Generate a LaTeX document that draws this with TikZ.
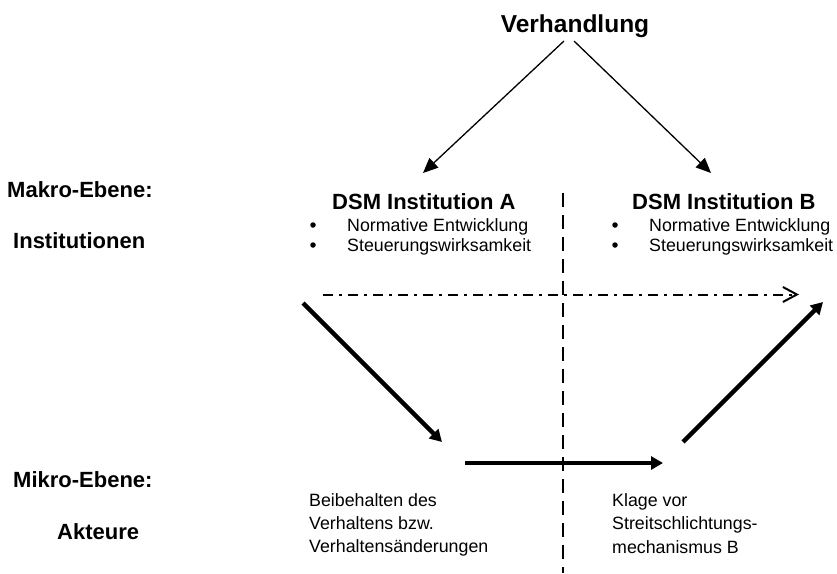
\documentclass[tikz,border=0pt]{standalone}
\usepackage{fontspec}
\setmainfont{Liberation Sans}
\usetikzlibrary{arrows.meta}
\begin{document}
\begin{tikzpicture}[x=1pt,y=-1pt,
  lbl/.style={anchor=base west,inner sep=0pt,font=\fontsize{22}{26}\selectfont\bfseries},
  headtxt/.style={anchor=base west,inner sep=0pt,font=\fontsize{22}{26}\selectfont\bfseries},
  txt/.style={anchor=base west,inner sep=0pt,font=\fontsize{17.8}{23}\selectfont},
  bul/.style={circle,fill=black,inner sep=0pt,minimum size=5.5pt},
  thinarrow/.style={line width=1.3pt,-{Triangle[length=15pt,width=13pt]}},
  thickarrow/.style={line width=4.5pt,-{Triangle[length=12pt,width=13pt]}},
  dashdot/.style={line width=2pt,dash pattern=on 10pt off 6pt on 3pt off 6pt,-{Straight Barb[length=14pt,width=15pt]}},
  divider/.style={line width=2pt,dash pattern=on 14pt off 8pt}]
\useasboundingbox (0,0) rectangle (837,573);

% title
\node[anchor=base,inner sep=0pt,font=\fontsize{24.5}{28}\selectfont\bfseries] (verh) at (575,32) {Verhandlung};

% left labels
\node[lbl] (makro) at (7,197) {Makro-Ebene:};
\node[lbl] (inst) at (13,248) {Institutionen};
\node[lbl] (mikro) at (13,487) {Mikro-Ebene:};
\node[lbl] (akt) at (57,539) {Akteure};

% institution A
\node[headtxt] (dsmA) at (332,209) {DSM Institution A};
\node[bul] (bA1) at (313,225) {};
\node[txt] (tA1) at (347,231) {Normative Entwicklung};
\node[bul] (bA2) at (313,245) {};
\node[txt] (tA2) at (347,251) {Steuerungswirksamkeit};

% institution B
\node[headtxt] (dsmB) at (632,209) {DSM Institution B};
\node[bul] (bB1) at (615,225) {};
\node[txt] (tB1) at (649,231) {Normative Entwicklung};
\node[bul] (bB2) at (615,245) {};
\node[txt] (tB2) at (649,251) {Steuerungswirksamkeit};

% bottom texts
\node[txt] (l1) at (309,506) {Beibehalten des};
\node[txt] (l2) at (309,529) {Verhaltens bzw.};
\node[txt] (l3) at (309,552) {Verhaltensänderungen};
\node[txt] (r1) at (612,506) {Klage vor};
\node[txt] (r2) at (612,529) {Streitschlichtungs-};
\node[txt] (r3) at (612,553) {mechanismus B};

% coordinates
\coordinate (vL) at (564,41);
\coordinate (vR) at (574,41);
\coordinate (tipA) at (423,173);
\coordinate (tipB) at (711,173);
\coordinate (divTop) at (563,193);
\coordinate (divBot) at (563,573);
\coordinate (ddS) at (323,294.5);
\coordinate (ddE) at (799,294.5);
\coordinate (aS) at (303,303);
\coordinate (aE) at (442,442);
\coordinate (hS) at (465,463);
\coordinate (hE) at (663,463);
\coordinate (bS) at (683,442);
\coordinate (bE) at (823,302);

% connectors
\draw[thinarrow] (vL) -- (tipA);
\draw[thinarrow] (vR) -- (tipB);
\draw[divider] (divTop) -- (divBot);
\draw[dashdot] (ddS) -- (ddE);
\draw[thickarrow] (aS) -- (aE);
\draw[thickarrow] (hS) -- (hE);
\draw[thickarrow] (bS) -- (bE);
\end{tikzpicture}
\end{document}
